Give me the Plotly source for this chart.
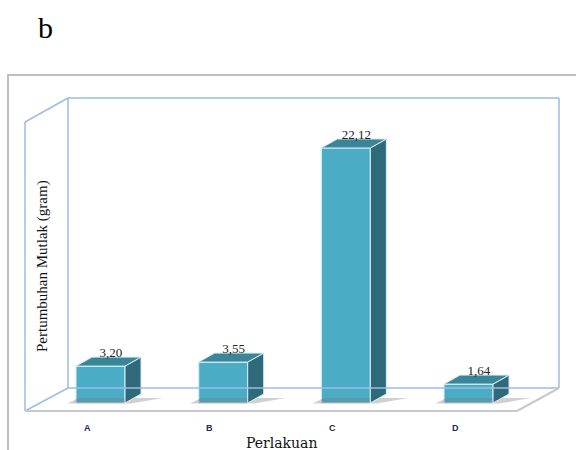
import plotly.graph_objects as go

categories = ["A", "B", "C", "D"]
values = [3.20, 3.55, 22.12, 1.64]
value_labels = ["3,20", "3,55", "22,12", "1,64"]

W, H = 576, 450
# pixel geometry of the plotting frame
X_UNIT = 122.67   # px per category
X0_PX = 100.5     # px centre of first category
Y_UNIT = 11.53    # px per gram
Y0_PX = 403.0     # px of zero

x_range = [-X0_PX / X_UNIT, (W - X0_PX) / X_UNIT]
y_range = [-(H - Y0_PX) / Y_UNIT, Y0_PX / Y_UNIT]

bar_w = 0.40
dx = 16 / X_UNIT
dy = 9 / Y_UNIT

FRONT = "#4BACC6"
TOP = "#3B8598"
SIDE = "#2F6A7A"

def X(px):
    return px / W

def Y(py):
    return 1 - py / H

fig = go.Figure()

xs = list(range(len(categories)))

# soft shadows
for i, v in zip(xs, values):
    xl, xr = i - bar_w / 2, i + bar_w / 2
    fig.add_trace(go.Scatter(
        x=[xl - 0.07, xr + 0.05, xr + dx + 0.18, xl + 0.02, xl - 0.07],
        y=[-0.05, -0.05, dy * 0.55, dy * 0.55, -0.05],
        fill="toself", mode="lines", line=dict(width=0),
        fillcolor="rgba(120,120,120,0.35)", hoverinfo="skip"))

fig.add_trace(go.Bar(
    x=xs, y=values, width=bar_w, base=0,
    marker=dict(color=FRONT, line=dict(color="#D8EEF4", width=1.2)),
    hoverinfo="skip"))

for i, v in zip(xs, values):
    xl, xr = i - bar_w / 2, i + bar_w / 2
    # side face
    fig.add_trace(go.Scatter(
        x=[xr, xr + dx, xr + dx, xr, xr],
        y=[0, dy, v + dy, v, 0],
        fill="toself", mode="lines", line=dict(color="#D8EEF4", width=1),
        fillcolor=SIDE, hoverinfo="skip"))
    # top face
    fig.add_trace(go.Scatter(
        x=[xl, xl + dx, xr + dx, xr, xl],
        y=[v, v + dy, v + dy, v, v],
        fill="toself", mode="lines", line=dict(color="#D8EEF4", width=1),
        fillcolor=TOP, hoverinfo="skip"))

fig.add_trace(go.Scatter(
    x=[i + dx / 2 + 0.02 for i in xs], y=[v + dy - 0.25 for v in values],
    mode="text", text=value_labels, textposition="top center",
    textfont=dict(family="Liberation Serif", size=13, color="#222222"),
    hoverinfo="skip"))

shapes = []
# outer frame
shapes.append(dict(type="rect", xref="paper", yref="paper",
                   x0=X(8), x1=X(590), y0=Y(470), y1=Y(75),
                   line=dict(color="#BFBFBF", width=2)))
wall = dict(color="#9CBDE6", width=1.5)
floor = dict(color="#C9C9C9", width=2)
def seg(p, q, line):
    shapes.append(dict(type="line", xref="paper", yref="paper",
                       x0=X(p[0]), y0=Y(p[1]), x1=X(q[0]), y1=Y(q[1]), line=line))
# back wall
seg((68, 98), (559, 98), wall)
seg((559, 98), (559, 388), wall)
seg((68, 98), (68, 388), wall)
seg((68, 388), (559, 388), wall)
# left wall
seg((68, 98), (25, 122), wall)
seg((25, 122), (25, 411), wall)
seg((25, 411), (68, 388), wall)
# floor
seg((25, 411), (517, 411), floor)
seg((517, 411), (559, 388), floor)

annotations = []
for i, c in zip(xs, categories):
    annotations.append(dict(x=i - 0.11, y=Y(428), xref="x", yref="paper",
                            xanchor="center", yanchor="middle",
                            text=f"<b>{c}</b>", showarrow=False,
                            font=dict(family="Liberation Sans", size=9, color="#1F2A44")))
annotations.append(dict(x=X(281), y=Y(443), xref="paper", yref="paper",
                        xanchor="center", yanchor="middle",
                        text="Perlakuan", showarrow=False,
                        font=dict(family="DejaVu Serif", size=14, color="#111111")))
annotations.append(dict(x=X(42), y=Y(266), xref="paper", yref="paper",
                        xanchor="center", yanchor="middle",
                        text="Pertumbuhan Mutlak (gram)", showarrow=False, textangle=-90,
                        font=dict(family="Liberation Serif", size=15, color="#111111")))
annotations.append(dict(x=X(45), y=Y(28), xref="paper", yref="paper",
                        xanchor="center", yanchor="middle",
                        text="b", showarrow=False,
                        font=dict(family="Liberation Serif", size=30, color="#000000")))

fig.update_layout(
    width=W, height=H, margin=dict(l=0, r=0, t=0, b=0),
    paper_bgcolor="white", plot_bgcolor="white",
    showlegend=False,
    xaxis=dict(range=x_range, visible=False, domain=[0, 1]),
    yaxis=dict(range=y_range, visible=False, domain=[0, 1]),
    shapes=shapes, annotations=annotations,
)

fig.write_html("out.html")
